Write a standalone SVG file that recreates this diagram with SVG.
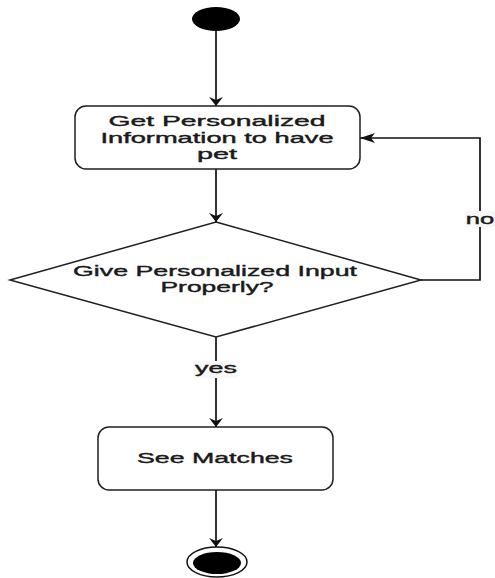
<svg xmlns="http://www.w3.org/2000/svg" width="495" height="578" viewBox="0 0 495 578">
<style>
.bg{fill:#ffffff}
.node{fill:#ffffff;stroke:#1f1f1f;stroke-width:1.5}
.txt{font-family:"Liberation Sans",Arial,sans-serif;font-size:15px;fill:#1a1a1a;stroke:#1a1a1a;stroke-width:0.4;text-anchor:middle}
.edge{fill:none;stroke:#111111;stroke-width:1.7}
.lblbg{fill:#f8f8f8}
</style>
<defs>
<marker id="arrDown" markerUnits="userSpaceOnUse" markerWidth="20" markerHeight="20" viewBox="-10 -10 20 20" refX="0" refY="0" orient="auto">
<path d="M0,0 L-9,-7 L-6,0 L-9,7 Z" fill="#111111"/>
</marker>
<marker id="arrLeft" markerUnits="userSpaceOnUse" markerWidth="20" markerHeight="20" viewBox="-16 -10 20 20" refX="0" refY="0" orient="auto">
<path d="M0,0 L-15,-5 L-11,0 L-15,5 Z" fill="#111111"/>
</marker>
</defs>
<rect class="bg" x="0" y="0" width="495" height="578"/>

<g id="connectors">
<line class="edge" x1="216" y1="29" x2="216" y2="106" marker-end="url(#arrDown)"/>
<line class="edge" x1="216" y1="169" x2="216" y2="222" marker-end="url(#arrDown)"/>
<polyline class="edge" points="421,280 480,280 480,138 360,138" stroke-width="1.3" marker-end="url(#arrLeft)"/>
<line class="edge" x1="216" y1="337" x2="216" y2="427" marker-end="url(#arrDown)"/>
<line class="edge" x1="216" y1="490" x2="216" y2="547" marker-end="url(#arrDown)"/>
<g id="label-no">
<rect class="lblbg" x="465" y="211" width="30" height="16"/>
<text class="txt" transform="translate(480,224) scale(1.78,1)" x="0" y="0" textLength="16" lengthAdjust="spacingAndGlyphs">no</text>
</g>
<g id="label-yes">
<rect class="lblbg" x="193" y="361" width="45" height="17"/>
<text class="txt" transform="translate(216,373) scale(1.78,1)" x="0" y="0" textLength="23.5" lengthAdjust="spacingAndGlyphs">yes</text>
</g>
</g>

<g id="start">
<ellipse cx="216" cy="19" rx="24" ry="12" fill="#000000"/>
</g>

<g id="get-info">
<rect class="node" x="75" y="106" width="285" height="63" rx="11" ry="11"/>
<text class="txt" transform="translate(217,126) scale(1.78,1)" x="0" y="0" textLength="122" lengthAdjust="spacingAndGlyphs">Get Personalized</text>
<text class="txt" transform="translate(217,143) scale(1.78,1)" x="0" y="0" textLength="131" lengthAdjust="spacingAndGlyphs">Information to have</text>
<text class="txt" transform="translate(217,159) scale(1.78,1)" x="0" y="0" textLength="22.5" lengthAdjust="spacingAndGlyphs">pet</text>
</g>

<g id="decision">
<polygon class="node" points="216,222 421,280 216,337 10,280"/>
<text class="txt" transform="translate(215,276) scale(1.78,1)" x="0" y="0" textLength="159.5" lengthAdjust="spacingAndGlyphs">Give Personalized Input</text>
<text class="txt" transform="translate(217,292) scale(1.78,1)" x="0" y="0" textLength="63.5" lengthAdjust="spacingAndGlyphs">Properly?</text>
</g>

<g id="see-matches">
<rect class="node" x="98" y="427" width="235" height="63" rx="11" ry="11"/>
<text class="txt" transform="translate(215,463) scale(1.78,1)" x="0" y="0" textLength="87.6" lengthAdjust="spacingAndGlyphs">See Matches</text>
</g>

<g id="end">
<ellipse cx="217" cy="562" rx="30" ry="15" fill="#ffffff" stroke="#111111" stroke-width="1.5"/>
<ellipse cx="217" cy="563" rx="24" ry="11" fill="#000000"/>
</g>
</svg>
